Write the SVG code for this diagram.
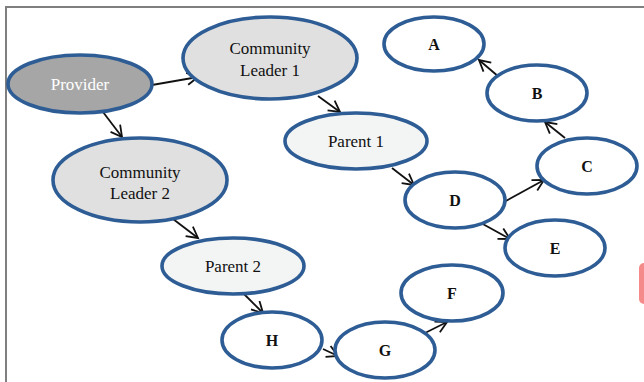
<svg xmlns="http://www.w3.org/2000/svg" width="644" height="382" viewBox="0 0 644 382">
<style>
.n{stroke:#2e5d95;stroke-width:3.6}
.lead{fill:#e0e0e0}
.par{fill:#f3f5f5}
.let{fill:#ffffff}
.prov{fill:#a6a6a6}
text{font-family:"Liberation Serif","Times New Roman",serif;font-size:17px;text-anchor:middle;fill:#111}
.b{font-weight:bold;font-size:16px}
.w{fill:#ffffff}
.c line{stroke:#111;stroke-width:1.8;marker-end:url(#ah)}
</style>
<defs>
<marker id="ah" markerUnits="userSpaceOnUse" markerWidth="16" markerHeight="16" refX="12" refY="7" orient="auto">
<path d="M1,1 L12,7 L1,13" fill="none" stroke="#111" stroke-width="1.8"/>
</marker>
</defs>
<rect width="644" height="382" fill="#ffffff"/>
<path d="M6,382 V7 H644" fill="none" stroke="#7f7f7f" stroke-width="2"/>
<rect x="639" y="263" width="10" height="41" rx="5" fill="#f58a8a"/>
<g class="c">
<line x1="152" y1="85" x2="198" y2="77"/>
<line x1="103" y1="112" x2="122" y2="137"/>
<line x1="318" y1="96" x2="340" y2="112"/>
<line x1="392" y1="168" x2="414" y2="185"/>
<line x1="504" y1="202" x2="544" y2="180"/>
<line x1="481" y1="223" x2="510" y2="239"/>
<line x1="565" y1="138" x2="545" y2="122"/>
<line x1="499" y1="77" x2="479" y2="60"/>
<line x1="173" y1="219" x2="198" y2="238"/>
<line x1="243" y1="293" x2="263" y2="313"/>
<line x1="323" y1="349" x2="338" y2="356"/>
<line x1="425" y1="333" x2="447" y2="322"/>
</g>
<g id="provider"><ellipse class="n prov" cx="80" cy="84" rx="72" ry="29"/><text class="w" x="80" y="90">Provider</text></g>
<g id="cl1"><ellipse class="n lead" cx="270" cy="58" rx="87" ry="41"/><text x="270" y="54">Community</text><text x="270" y="76">Leader 1</text></g>
<g id="cl2"><ellipse class="n lead" cx="140" cy="180" rx="87" ry="42"/><text x="140" y="178">Community</text><text x="140" y="199">Leader 2</text></g>
<g id="parent1"><ellipse class="n par" cx="356" cy="141" rx="71" ry="28"/><text x="356" y="147">Parent 1</text></g>
<g id="parent2"><ellipse class="n par" cx="233" cy="266" rx="71" ry="28"/><text x="233" y="272">Parent 2</text></g>
<g id="A"><ellipse class="n let" cx="434" cy="44" rx="50" ry="27"/><text class="b" x="434" y="50">A</text></g>
<g id="B"><ellipse class="n let" cx="537" cy="93" rx="50" ry="28"/><text class="b" x="537" y="99">B</text></g>
<g id="C"><ellipse class="n let" cx="587" cy="166" rx="50" ry="28"/><text class="b" x="587" y="172">C</text></g>
<g id="D"><ellipse class="n let" cx="455" cy="200" rx="50" ry="28"/><text class="b" x="455" y="206">D</text></g>
<g id="E"><ellipse class="n let" cx="555" cy="248" rx="50" ry="28"/><text class="b" x="555" y="254">E</text></g>
<g id="F"><ellipse class="n let" cx="452" cy="293" rx="51" ry="28"/><text class="b" x="452" y="299">F</text></g>
<g id="G"><ellipse class="n let" cx="385" cy="350" rx="50" ry="28"/><text class="b" x="385" y="356">G</text></g>
<g id="H"><ellipse class="n let" cx="272" cy="340" rx="50" ry="28"/><text class="b" x="272" y="346">H</text></g>
</svg>
